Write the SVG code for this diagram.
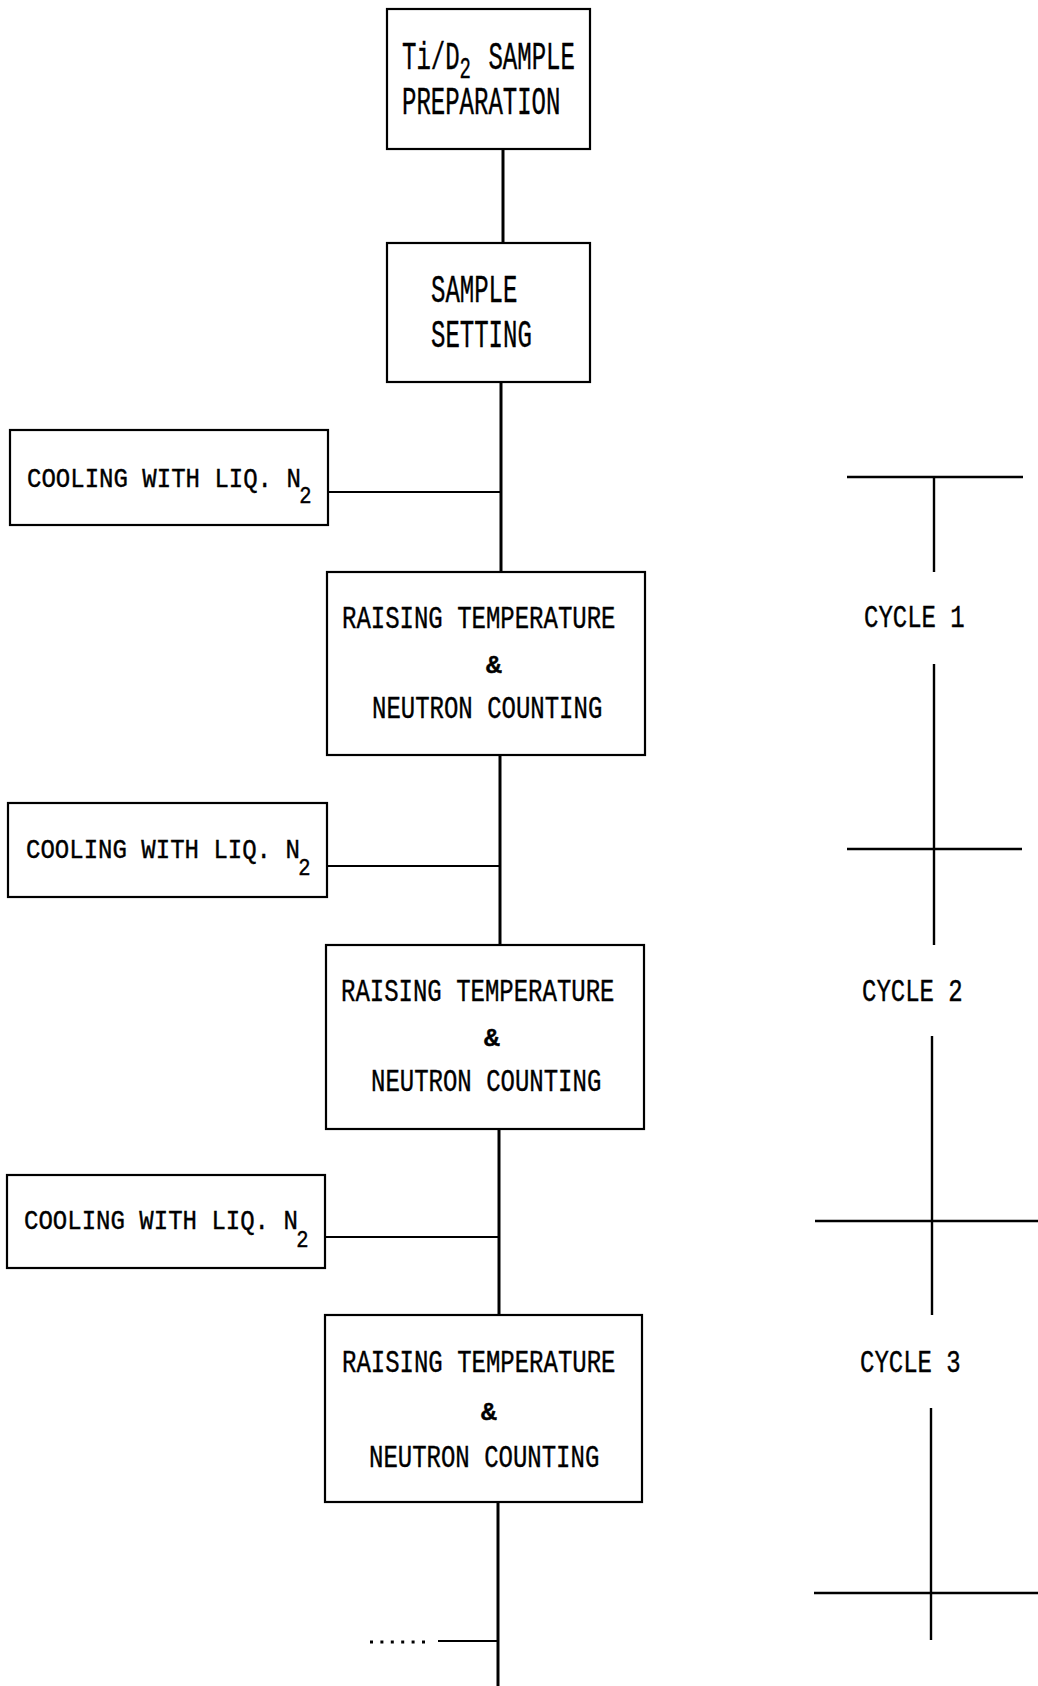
<svg xmlns="http://www.w3.org/2000/svg" width="1038" height="1686" viewBox="0 0 1038 1686">
<style>
.box{fill:none;stroke:#000;stroke-width:2.2}
.t{font-family:"Liberation Mono","DejaVu Sans Mono",monospace;fill:#000;stroke:#000;stroke-width:0.4}
.big{font-size:38px}
.mid{font-size:32px}
.sm{font-size:27px}
.amp{font-size:26px;font-weight:bold}
.trunk{stroke:#000;stroke-width:3;fill:none}
.br{stroke:#000;stroke-width:2.2;fill:none}
.cyc{stroke:#000;stroke-width:2.4;fill:none}
</style>
<rect width="1038" height="1686" fill="#fff"/>
<g id="connectors">
<line class="trunk" x1="503" y1="149" x2="503" y2="243"/>
<line class="trunk" x1="501" y1="382" x2="501" y2="572"/>
<line class="br" x1="328" y1="492" x2="501" y2="492"/>
<line class="trunk" x1="500" y1="755" x2="500" y2="945"/>
<line class="br" x1="327" y1="866" x2="500" y2="866"/>
<line class="trunk" x1="499" y1="1129" x2="499" y2="1315"/>
<line class="br" x1="325" y1="1237" x2="499" y2="1237"/>
<line class="trunk" x1="498" y1="1502" x2="498" y2="1686"/>
<line class="br" x1="438" y1="1641" x2="498" y2="1641"/>
<line x1="370" y1="1642" x2="426" y2="1642" stroke="#000" stroke-width="3" stroke-dasharray="3 7.4"/>
</g>
<g id="prep">
<rect class="box" x="387" y="9" width="203" height="140"/>
<text class="t big" transform="matrix(0.632 0 0 1 402 69)"><tspan x="0" y="0">Ti/D</tspan><tspan x="91" y="9" font-size="30">2</tspan><tspan x="114" y="0"> SAMPLE</tspan></text>
<text class="t big" transform="matrix(0.632 0 0 1 402 114)">PREPARATION</text>
</g>
<g id="setting">
<rect class="box" x="387" y="243" width="203" height="139"/>
<text class="t big" transform="matrix(0.632 0 0 1 431 302)">SAMPLE</text>
<text class="t big" transform="matrix(0.632 0 0 1 431 347)">SETTING</text>
</g>
<g id="cool1">
<rect class="box" x="10" y="430" width="318" height="95"/>
<text class="t sm" transform="matrix(0.89 0 0 1 27 487)"><tspan x="0" y="0">COOLING WITH LIQ. N</tspan><tspan x="306" y="16" font-size="23">2</tspan></text>
</g>
<g id="raise1">
<rect class="box" x="327" y="572" width="318" height="183"/>
<text class="t mid" transform="matrix(0.75 0 0 1 342 628)">RAISING TEMPERATURE</text>
<text class="t amp" x="486" y="673">&amp;</text>
<text class="t mid" transform="matrix(0.75 0 0 1 372 718)">NEUTRON COUNTING</text>
</g>
<g id="cool2">
<rect class="box" x="8" y="803" width="319" height="94"/>
<text class="t sm" transform="matrix(0.89 0 0 1 26 858)"><tspan x="0" y="0">COOLING WITH LIQ. N</tspan><tspan x="306" y="17" font-size="23">2</tspan></text>
</g>
<g id="raise2">
<rect class="box" x="326" y="945" width="318" height="184"/>
<text class="t mid" transform="matrix(0.75 0 0 1 341 1001)">RAISING TEMPERATURE</text>
<text class="t amp" x="484" y="1046">&amp;</text>
<text class="t mid" transform="matrix(0.75 0 0 1 371 1091)">NEUTRON COUNTING</text>
</g>
<g id="cool3">
<rect class="box" x="7" y="1175" width="318" height="93"/>
<text class="t sm" transform="matrix(0.89 0 0 1 24 1229)"><tspan x="0" y="0">COOLING WITH LIQ. N</tspan><tspan x="306" y="18" font-size="23">2</tspan></text>
</g>
<g id="raise3">
<rect class="box" x="325" y="1315" width="317" height="187"/>
<text class="t mid" transform="matrix(0.75 0 0 1 342 1372)">RAISING TEMPERATURE</text>
<text class="t amp" x="481" y="1420">&amp;</text>
<text class="t mid" transform="matrix(0.75 0 0 1 369 1467)">NEUTRON COUNTING</text>
</g>
<g id="cycles">
<line class="cyc" x1="847" y1="477" x2="1023" y2="477"/>
<line class="cyc" x1="934" y1="477" x2="934" y2="572"/>
<text class="t mid" transform="matrix(0.75 0 0 1 864 627)">CYCLE 1</text>
<line class="cyc" x1="934" y1="664" x2="934" y2="945"/>
<line class="cyc" x1="847" y1="849" x2="1022" y2="849"/>
<text class="t mid" transform="matrix(0.75 0 0 1 862 1001)">CYCLE 2</text>
<line class="cyc" x1="932" y1="1036" x2="932" y2="1315"/>
<line class="cyc" x1="815" y1="1221" x2="1038" y2="1221"/>
<text class="t mid" transform="matrix(0.75 0 0 1 860 1372)">CYCLE 3</text>
<line class="cyc" x1="931" y1="1408" x2="931" y2="1640"/>
<line class="cyc" x1="814" y1="1593" x2="1038" y2="1593"/>
</g>
</svg>
